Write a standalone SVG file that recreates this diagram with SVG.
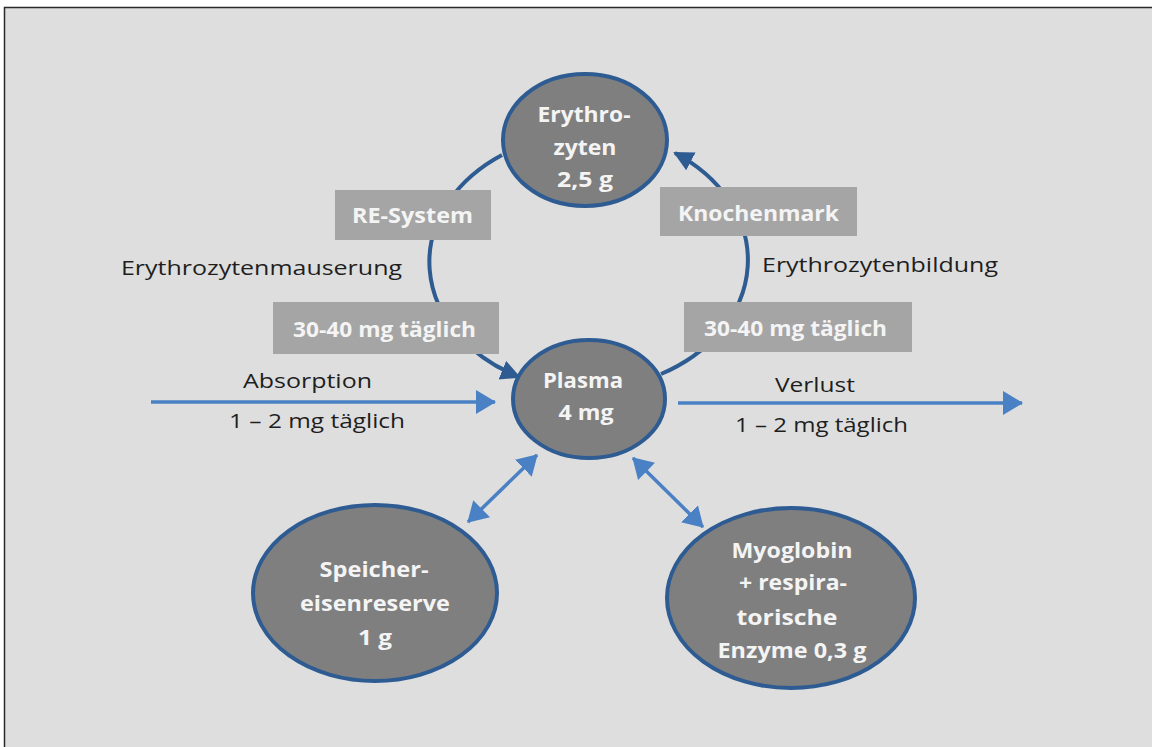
<svg xmlns="http://www.w3.org/2000/svg" width="1152" height="747" viewBox="0 0 1152 747">
<style>
.node{fill:#7f7f7f;stroke:#2e5c92;stroke-width:4}
.nt{font-family:"Open Sans","Liberation Sans",sans-serif;font-weight:bold;font-size:22px;fill:#f4f4f4;text-anchor:middle}
.box{fill:#a5a5a5}
.bt{font-family:"Open Sans","Liberation Sans",sans-serif;font-weight:bold;font-size:21px;fill:#f4f4f4}
.lt{font-family:"Open Sans","Liberation Sans",sans-serif;font-size:20px;fill:#1e1e1e}
.cyc{fill:none;stroke:#2e5c92;stroke-width:4}
.flow{fill:none;stroke:#4a80c4;stroke-width:3.5}
</style>
<defs>
<marker id="ah" markerUnits="userSpaceOnUse" markerWidth="22" markerHeight="22" refX="18" refY="10" orient="auto">
<path d="M0,0 L20,10 L0,20 Z" fill="#2e5c92"/>
</marker>
<marker id="fa" markerUnits="userSpaceOnUse" markerWidth="24" markerHeight="26" refX="19" refY="12" orient="auto">
<path d="M0,0 L20,12 L0,24 Z" fill="#4a80c4"/>
</marker>
<marker id="fs" markerUnits="userSpaceOnUse" markerWidth="24" markerHeight="26" refX="1" refY="12" orient="auto">
<path d="M20,0 L0,12 L20,24 Z" fill="#4a80c4"/>
</marker>
</defs>
<rect x="0" y="0" width="1152" height="747" fill="#ffffff"/>
<rect x="4.5" y="7.5" width="1152" height="745" fill="#dedede" stroke="#2a2a2a" stroke-width="1.5"/>

<g id="connectors">
<path class="cyc" d="M502,155 A168 130 0 0 0 519,377" marker-end="url(#ah)"/>
<path class="cyc" d="M661,374 A168 130 0 0 0 675,153" marker-end="url(#ah)"/>
<line class="flow" x1="151" y1="402" x2="495" y2="402" marker-end="url(#fa)"/>
<line class="flow" x1="678" y1="403" x2="1022" y2="403" marker-end="url(#fa)"/>
<line class="flow" x1="468" y1="522" x2="537" y2="455" marker-start="url(#fs)" marker-end="url(#fa)"/>
<line class="flow" x1="633" y1="458" x2="703" y2="527" marker-start="url(#fs)" marker-end="url(#fa)"/>
</g>

<g id="re-system">
<rect class="box" x="335" y="190" width="156" height="50"/>
<text class="bt" x="352" y="223" textLength="121" lengthAdjust="spacingAndGlyphs">RE-System</text>
</g>
<g id="mauserung-rate">
<rect class="box" x="273" y="302" width="226" height="52"/>
<text class="bt" x="293" y="337" textLength="183" lengthAdjust="spacingAndGlyphs">30-40 mg täglich</text>
</g>
<g id="knochenmark">
<rect class="box" x="660" y="187" width="197" height="49"/>
<text class="bt" x="678" y="221" textLength="161" lengthAdjust="spacingAndGlyphs">Knochenmark</text>
</g>
<g id="bildung-rate">
<rect class="box" x="684" y="302" width="228" height="50"/>
<text class="bt" x="704" y="336" textLength="183" lengthAdjust="spacingAndGlyphs">30-40 mg täglich</text>
</g>

<g id="labels">
<text class="lt" x="121" y="275" textLength="281" lengthAdjust="spacingAndGlyphs">Erythrozytenmauserung</text>
<text class="lt" x="762" y="272" textLength="236" lengthAdjust="spacingAndGlyphs">Erythrozytenbildung</text>
<text class="lt" x="243" y="388" textLength="129" lengthAdjust="spacingAndGlyphs">Absorption</text>
<text class="lt" x="229" y="428" textLength="176" lengthAdjust="spacingAndGlyphs">1 – 2 mg täglich</text>
<text class="lt" x="775" y="392" textLength="80" lengthAdjust="spacingAndGlyphs">Verlust</text>
<text class="lt" x="735" y="432" textLength="173" lengthAdjust="spacingAndGlyphs">1 – 2 mg täglich</text>
</g>

<g id="erythrozyten">
<ellipse class="node" cx="585" cy="140" rx="82" ry="66"/>
<text class="nt" x="584" y="122" textLength="93" lengthAdjust="spacingAndGlyphs">Erythro-</text>
<text class="nt" x="585" y="155" textLength="63" lengthAdjust="spacingAndGlyphs">zyten</text>
<text class="nt" x="585" y="187" textLength="56" lengthAdjust="spacingAndGlyphs">2,5 g</text>
</g>

<g id="plasma">
<ellipse class="node" cx="589" cy="399" rx="76" ry="59"/>
<text class="nt" x="583" y="388" textLength="80" lengthAdjust="spacingAndGlyphs">Plasma</text>
<text class="nt" x="586" y="420" textLength="55" lengthAdjust="spacingAndGlyphs">4 mg</text>
</g>

<g id="speicher">
<ellipse class="node" cx="375" cy="593" rx="122" ry="88"/>
<text class="nt" x="374" y="577" textLength="109" lengthAdjust="spacingAndGlyphs">Speicher-</text>
<text class="nt" x="375" y="611" textLength="150" lengthAdjust="spacingAndGlyphs">eisenreserve</text>
<text class="nt" x="375" y="645" textLength="34" lengthAdjust="spacingAndGlyphs">1 g</text>
</g>

<g id="myoglobin">
<ellipse class="node" cx="791" cy="598" rx="124" ry="90"/>
<text class="nt" x="792" y="558" textLength="121" lengthAdjust="spacingAndGlyphs">Myoglobin</text>
<text class="nt" x="793" y="590" textLength="108" lengthAdjust="spacingAndGlyphs">+ respira-</text>
<text class="nt" x="787" y="625" textLength="101" lengthAdjust="spacingAndGlyphs">torische</text>
<text class="nt" x="792" y="658" textLength="149" lengthAdjust="spacingAndGlyphs">Enzyme 0,3 g</text>
</g>
</svg>
